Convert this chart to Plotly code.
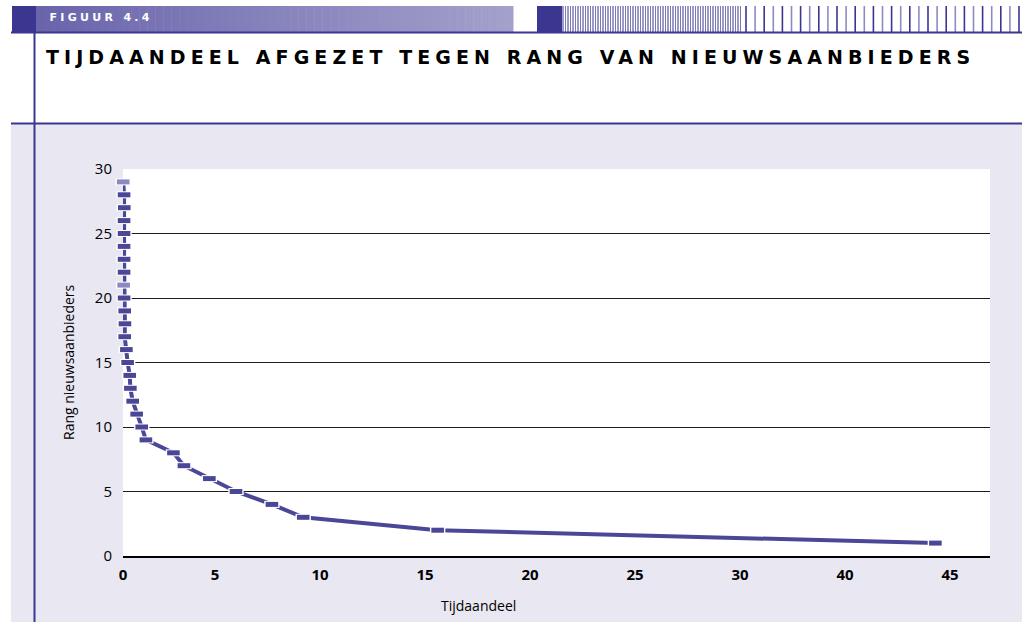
import plotly.graph_objects as go

# ---------------- data ----------------
rank = list(range(1, 30))
share = [39.3, 15.6, 9.2, 7.71, 6.0, 4.73, 3.52, 3.02, 1.71, 1.51,
         1.27, 1.08, 0.97, 0.94, 0.84, 0.78, 0.70, 0.71, 0.70, 0.67,
         0.65, 0.67, 0.67, 0.67, 0.67, 0.67, 0.68, 0.67, 0.63]
x_tick_text = ["0", "5", "10", "15", "20", "25", "30", "40", "45"]
y_ticks = [0, 5, 10, 15, 20, 25, 30]
title_text = "TIJDAANDEEL AFGEZET TEGEN RANG VAN NIEUWSAANBIEDERS"
figure_label = "FIGUUR 4.4"
x_title = "Tijdaandeel"
y_title = "Rang nieuwsaanbieders"

# ---------------- styling ----------------
W, H = 1022, 622
L, R, T, B = 123, 990, 169, 556          # plot area in pixels
DARK = "#3b3690"
LINE = "#4a4797"
LIGHT_MK = "#8c89c2"
LAV = "#e9e7f2"
FONT = "Open Sans"

X0 = 0.619
X1 = 41.9


def px(x):
    return (x - L) / (R - L)


def py(y):
    return (B - y) / (B - T)


shapes = []


def rect(x0, y0, x1, y1, color, layer="below"):
    shapes.append(dict(type="rect", xref="paper", yref="paper",
                       x0=px(x0), x1=px(x1), y0=py(y1), y1=py(y0),
                       fillcolor=color, line=dict(width=0), layer=layer))


def hline(x0, x1, y, color, w):
    shapes.append(dict(type="line", xref="paper", yref="paper",
                       x0=px(x0), x1=px(x1), y0=py(y), y1=py(y),
                       line=dict(color=color, width=w), layer="above"))


def vline(x, y0, y1, color, w):
    shapes.append(dict(type="line", xref="paper", yref="paper",
                       x0=px(x), x1=px(x), y0=py(y0), y1=py(y1),
                       line=dict(color=color, width=w), layer="above"))


# lavender chart background and white plot area
rect(11, 124, W, H, LAV)
rect(L, T, R, B, "white")

# header band: dark square + gradient
rect(12, 6, 36, 32, DARK)
c0 = (0x6a, 0x65, 0xab)
c1 = (0xa3, 0xa0, 0xcc)
n = 60
gx0, gx1 = 36, 513
for i in range(n):
    t = i / (n - 1)
    c = "rgb(%d,%d,%d)" % tuple(round(a + (b - a) * t) for a, b in zip(c0, c1))
    rect(gx0 + (gx1 - gx0) * i / n, 6, gx0 + (gx1 - gx0) * (i + 1) / n + 0.5, 32, c)
# right part: dark square + barcode
rect(537, 6, 562, 32, DARK)
x = 563.0
k = 0
while x < 741:
    vline(x, 6, 32, DARK if k % 2 == 0 else "#7d79b8", 1)
    x += 2.5
    k += 1
x = 746.0
k = 0
while x < 1020:
    vline(x, 6, 32, DARK if k % 2 == 0 else "#8e8bc3", 1.6)
    x += 9.1
    k += 1

# rules
hline(11, W, 32.5, DARK, 2)
hline(11, W, 123.5, DARK, 2)
vline(34.5, 32, H, DARK, 2)

fig = go.Figure()
fig.add_trace(go.Scatter(x=share, y=rank, mode="lines",
                         line=dict(color=LINE, width=4), cliponaxis=False,
                         hoverinfo="skip", showlegend=False))
fig.add_trace(go.Scatter(x=share, y=rank, mode="markers", cliponaxis=False,
                         marker=dict(symbol="line-ew", size=11,
                                     line=dict(color="white", width=7)),
                         hoverinfo="skip", showlegend=False))
mk_colors = [LIGHT_MK if r in (21, 29) else LINE for r in rank]
fig.add_trace(go.Scatter(x=share, y=rank, mode="markers", cliponaxis=False,
                         marker=dict(symbol="line-ew", size=9, color=mk_colors,
                                     line=dict(color=mk_colors, width=5)),
                         showlegend=False))

annotations = [
    dict(text=figure_label, xref="paper", yref="paper", x=px(101), y=py(18),
         xanchor="center", yanchor="middle", showarrow=False,
         font=dict(family="DejaVu Sans", size=11, color="white", weight="bold")),
    dict(text=title_text, xref="paper", yref="paper", x=px(510), y=py(57),
         xanchor="center", yanchor="middle", showarrow=False,
         font=dict(family="DejaVu Sans", size=19, color="black", weight="bold")),
    dict(text=x_title, xref="paper", yref="paper", x=px(478), y=py(605),
         xanchor="center", yanchor="middle", showarrow=False,
         font=dict(family=FONT, size=14, color="black")),
    dict(text=y_title, xref="paper", yref="paper", x=px(68), y=py(362),
         xanchor="center", yanchor="middle", showarrow=False, textangle=-90,
         font=dict(family=FONT, size=14, color="black")),
]

fig.update_layout(
    width=W, height=H,
    margin=dict(l=L, r=W - R, t=T, b=H - B, pad=0),
    paper_bgcolor="white", plot_bgcolor="rgba(0,0,0,0)",
    shapes=shapes, annotations=annotations,
    xaxis=dict(range=[X0, X1], tickvals=[X0, 5, 10, 15, 20, 25, 30, 35, 40],
               ticktext=x_tick_text, showgrid=False, zeroline=False,
               showline=True, linecolor="black", linewidth=1.5,
               ticks="", ticklabelstandoff=4,
               tickfont=dict(family=FONT, size=15, color="black", weight="bold")),
    yaxis=dict(range=[0, 30], tickvals=y_ticks, showgrid=True,
               gridcolor="#1e1e1e", gridwidth=1, zeroline=False,
               showline=False, ticks="", ticklabelstandoff=10,
               tickfont=dict(family=FONT, size=15, color="black")),
)

post = """
document.body.style.margin='0';
document.body.style.overflow='hidden';
var spacing = {'%s': '5.1px', '%s': '3.3px'};
document.querySelectorAll('.annotation-text').forEach(function(el){
  var s = spacing[el.textContent];
  if (s) { el.style.letterSpacing = s; }
});
""" % (title_text, figure_label)

fig.write_html("out.html", config={"displayModeBar": False}, post_script=post)
